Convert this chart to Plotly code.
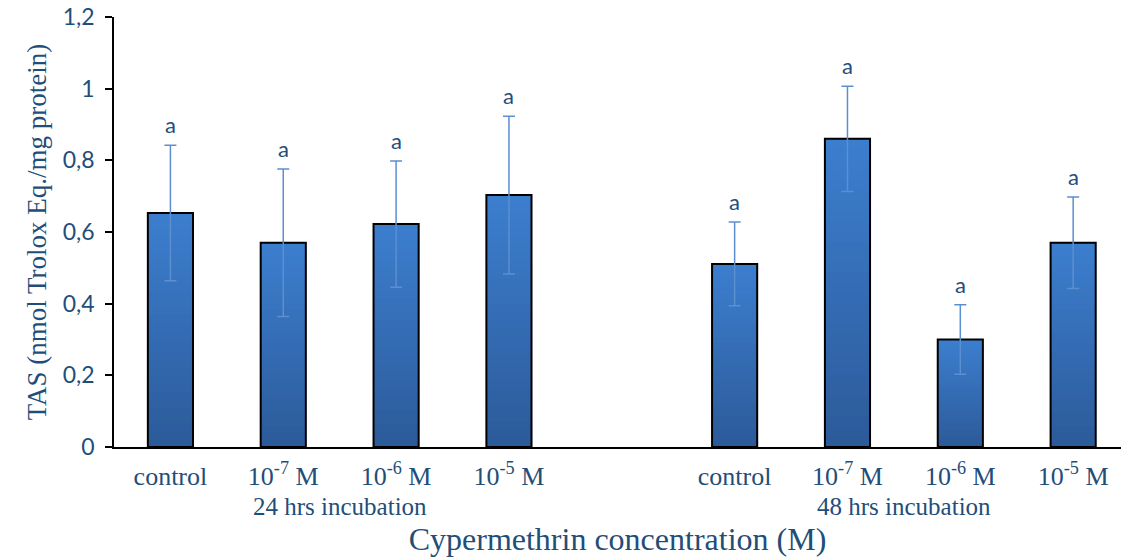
import plotly.graph_objects as go

# TAS after cypermethrin exposure, two incubation times
conc_labels = ["control", "10<sup>-7</sup> M", "10<sup>-6</sup> M", "10<sup>-5</sup> M"]
tas_24h = [0.653, 0.570, 0.622, 0.703]
sd_24h = [0.189, 0.206, 0.176, 0.220]
tas_48h = [0.511, 0.860, 0.300, 0.570]
sd_48h = [0.117, 0.147, 0.097, 0.128]
letters_24h = ["a", "a", "a", "a"]
letters_48h = ["a", "a", "a", "a"]
group_names = ["24 hrs incubation", "48 hrs incubation"]
y_ticks = [0, 0.2, 0.4, 0.6, 0.8, 1.0, 1.2]
y_tick_text = ["0", "0,2", "0,4", "0,6", "0,8", "1", "1,2"]

# slot positions: four bars, an empty slot, four bars
pos_24h = [0, 1, 2, 3]
pos_48h = [5, 6, 7, 8]

TEXT_BLUE = "#1f4e79"
ERR_BLUE = "#5b8fd0"
TOP_RGB = (60, 126, 206)
BOTTOM_RGB = (44, 91, 154)
SERIF = "Liberation Serif, Times New Roman, serif"
SANS = "Lato, 'Open Sans', sans-serif"

x_all = pos_24h + pos_48h
y_all = tas_24h + tas_48h
e_all = sd_24h + sd_48h
letters = letters_24h + letters_48h

fig = go.Figure()

# vertical shading: overlaid bars, each shorter one a bit darker
N_SHADES = 30
for k in range(N_SHADES):
    f = k / (N_SHADES - 1)
    rgb = tuple(round(t + (b - t) * f) for t, b in zip(TOP_RGB, BOTTOM_RGB))
    frac = (N_SHADES - k) / N_SHADES
    fig.add_trace(go.Bar(
        x=x_all, y=[v * frac for v in y_all], width=0.4,
        marker=dict(color="rgb(%d,%d,%d)" % rgb, line=dict(width=0)),
        showlegend=False, hoverinfo="skip",
    ))

# outlined bars with error bars on top
fig.add_trace(go.Bar(
    x=x_all, y=y_all, width=0.4,
    marker=dict(color="rgba(0,0,0,0)", line=dict(color="black", width=2)),
    error_y=dict(type="data", array=e_all, visible=True,
                 color=ERR_BLUE, thickness=1.5, width=6),
    showlegend=False,
))

annotations = []
for x, y, e, t in zip(x_all, y_all, e_all, letters):
    annotations.append(dict(
        x=x, y=y + e, xref="x", yref="y", text=t, showarrow=False,
        yanchor="bottom", yshift=5,
        font=dict(family=SANS, size=22, color=TEXT_BLUE),
    ))

for positions, name in zip([pos_24h, pos_48h], group_names):
    annotations.append(dict(
        x=(positions[0] + positions[-1]) / 2, y=0, xref="x", yref="paper",
        yshift=-59, text=name, showarrow=False, yanchor="middle",
        font=dict(family=SERIF, size=25, color=TEXT_BLUE),
    ))

fig.update_layout(
    width=1121, height=558,
    margin=dict(l=114, r=0, t=17, b=111),
    paper_bgcolor="white", plot_bgcolor="white",
    barmode="overlay",
    annotations=annotations,
    xaxis=dict(
        range=[-0.5, 8.424],
        tickvals=x_all, ticktext=conc_labels + conc_labels,
        ticks="", ticklabelstandoff=5,
        tickfont=dict(family=SERIF, size=26, color=TEXT_BLUE),
        showline=True, linecolor="black", linewidth=1.5,
        showgrid=False, zeroline=False,
        title=dict(text="Cypermethrin concentration (M)", standoff=38,
                   font=dict(family=SERIF, size=32, color=TEXT_BLUE)),
    ),
    yaxis=dict(
        range=[0, 1.2],
        tickvals=y_ticks, ticktext=y_tick_text,
        ticks="outside", ticklen=7, tickcolor="black", tickwidth=1.5,
        ticklabelstandoff=6,
        tickfont=dict(family=SANS, size=23, color=TEXT_BLUE),
        showline=True, linecolor="black", linewidth=1.5,
        showgrid=False, zeroline=False,
        title=dict(text="TAS (nmol Trolox Eq./mg protein)", standoff=8,
                   font=dict(family=SERIF, size=27, color=TEXT_BLUE)),
    ),
)

fig.write_html("out.html")
